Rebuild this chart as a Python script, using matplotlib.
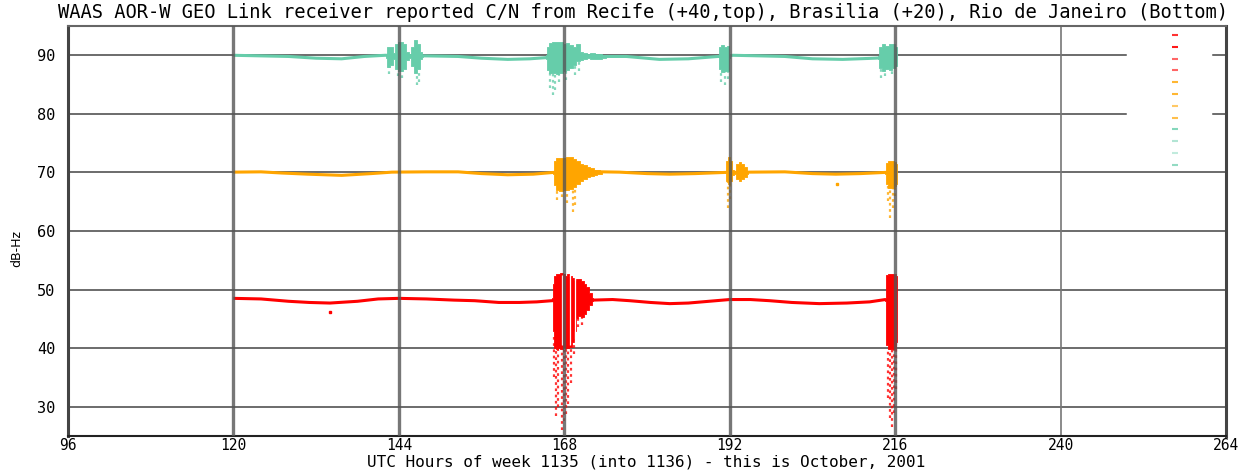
import numpy as np
import matplotlib
matplotlib.use("Agg")
import matplotlib.pyplot as plt

# baseline C/N (already offset: Recife +40, Brasilia +20, Rio +0)
green_t = [120, 124, 128, 132, 135.7, 139, 142, 148, 152.6, 156, 159.8, 163, 165.4,
           172, 177, 181.8, 186, 190.3, 192.5, 196.4, 200, 204, 208.4, 213, 216.2]
green_y = [90.0, 89.9, 89.8, 89.5, 89.4, 89.8, 90.0, 89.9, 89.8, 89.5, 89.3, 89.4, 89.6,
           89.8, 89.8, 89.3, 89.4, 89.8, 90.0, 89.9, 89.8, 89.4, 89.3, 89.5, 89.7]

orange_t = [120, 124, 127, 130.8, 135.7, 140, 143, 148, 152.6, 156, 159.8, 163.5, 166.4,
            173.5, 176, 180, 183.3, 187, 191.3, 195, 200, 204, 207.4, 211, 214.5, 216.2]
orange_y = [70.05, 70.1, 69.9, 69.7, 69.5, 69.8, 70.05, 70.1, 70.1, 69.8, 69.6, 69.7, 70.0,
            70.1, 70.05, 69.8, 69.7, 69.8, 70.0, 70.05, 70.1, 69.8, 69.7, 69.8, 70.0, 70.1]

red_t = [120, 124, 128, 131, 134, 138, 141, 144, 148, 152, 155, 158.5, 161.5, 164, 166.2,
         172.1, 175, 177.5, 180.5, 183.3, 186, 188, 192, 195, 197.8, 201, 205, 209, 212.3, 214.6]
red_y = [48.5, 48.4, 48.0, 47.8, 47.7, 48.0, 48.4, 48.5, 48.4, 48.2, 48.1, 47.8, 47.8, 47.9, 48.1,
         48.2, 48.3, 48.1, 47.8, 47.6, 47.7, 47.9, 48.3, 48.3, 48.1, 47.8, 47.6, 47.7, 47.9, 48.3]

# scintillation bursts: dense envelope (hi / lo)
green_burst_t = [
    [142.2, 142.5, 143.0, 143.3, 143.6, 144.2, 144.9, 145.3, 145.6, 146.0, 146.4, 146.8, 147.2, 147.5],
    [165.4, 165.7, 166.0, 166.5, 167.0, 167.5, 168.0, 168.5, 169.0, 169.5, 170.0, 170.5, 171.0, 171.5, 172.0, 173.0, 174.0],
    [190.3, 190.6, 191.0, 191.4, 191.8, 192.1],
    [213.5, 213.8, 214.3, 214.8, 215.3, 215.8, 216.2],
]
green_burst_hi = [
    [90.3, 91.5, 91.4, 90.4, 91.9, 92.2, 91.9, 90.6, 90.2, 91.5, 92.6, 92.0, 90.5, 90.1],
    [90.0, 91.5, 92.1, 92.3, 92.3, 92.2, 92.0, 92.1, 91.8, 91.5, 92.0, 90.6, 90.4, 90.2, 90.4, 90.3, 90.1],
    [90.0, 91.5, 91.7, 91.4, 91.6, 90.2],
    [89.8, 91.5, 92.0, 91.6, 91.9, 92.0, 91.5],
]
green_burst_lo = [
    [89.6, 88.0, 88.3, 89.4, 87.6, 87.3, 87.6, 89.2, 89.5, 88.2, 87.0, 87.6, 89.3, 89.7],
    [89.4, 87.5, 87.0, 87.0, 86.8, 87.0, 87.3, 87.5, 87.8, 88.4, 89.0, 89.2, 89.4, 89.5, 89.3, 89.4, 89.6],
    [89.7, 87.6, 87.1, 87.4, 87.3, 89.6],
    [89.4, 87.8, 87.4, 87.6, 87.5, 87.8, 88.2],
]

orange_burst_t = [
    [166.4, 166.7, 167.0, 167.5, 168.0, 168.5, 169.0, 169.5, 170.0, 170.5, 171.0, 171.5, 172.0, 172.5, 173.0, 173.5],
    [191.3, 191.6, 191.9, 192.2, 192.5, 192.8, 193.1, 193.5, 193.9, 194.3, 194.6],
    [214.5, 214.8, 215.2, 215.6, 216.0, 216.2],
]
orange_burst_hi = [
    [70.2, 72.0, 72.4, 72.5, 72.4, 72.7, 72.6, 72.3, 71.9, 71.5, 71.2, 70.9, 70.7, 70.5, 70.4, 70.2],
    [70.2, 72.0, 72.6, 72.0, 70.5, 70.3, 71.5, 71.7, 71.5, 71.0, 70.2],
    [70.3, 71.6, 72.0, 72.0, 71.8, 71.5],
]
orange_burst_lo = [
    [69.8, 67.8, 67.0, 66.8, 67.0, 67.0, 67.2, 67.5, 68.0, 68.5, 68.8, 69.2, 69.4, 69.6, 69.7, 69.8],
    [69.9, 68.5, 68.1, 68.6, 69.6, 69.7, 68.8, 68.6, 68.8, 69.2, 69.8],
    [69.8, 68.0, 67.4, 67.4, 67.6, 68.0],
]

red_burst_t = [
    [166.2, 166.4, 166.7, 167.0, 167.3, 167.6, 168.0, 168.3, 168.6, 168.9, 169.2, 169.5, 169.8,
     170.2, 170.6, 171.0, 171.4, 171.8, 172.1],
    [214.6, 214.8, 215.2, 215.6, 216.0, 216.2],
]
red_burst_hi = [
    [48.6, 51.0, 52.3, 52.6, 52.7, 52.8, 52.7, 52.4, 52.6, 52.3, 52.0, 51.6, 51.8, 51.8, 51.4, 51.0, 50.4, 49.5, 48.6],
    [48.5, 52.5, 52.7, 52.7, 52.6, 52.3],
]
red_burst_lo = [
    [48.0, 43.0, 40.0, 39.8, 40.0, 39.8, 40.2, 40.0, 40.0, 40.2, 41.0, 43.0, 45.2, 45.5, 45.4, 45.8, 46.5, 47.3, 48.0],
    [48.0, 40.5, 39.9, 39.9, 40.0, 41.0],
]
red_gaps = [167.6, 168.8, 169.5]

# sparse fade tails below the dense part
green_tail_t = [142.6, 143.9, 144.4, 146.6, 146.9, 166.0, 166.3, 166.7, 167.3, 168.2, 169.6, 170.2,
                190.8, 191.3, 191.7, 214.0, 214.5, 215.6]
green_tail_top = [88.0, 87.4, 87.3, 87.0, 87.4, 87.0, 87.0, 87.0, 86.8, 87.3, 88.4, 89.0,
                  87.5, 87.3, 87.3, 87.6, 87.6, 87.8]
green_tail_bot = [86.8, 86.5, 86.2, 85.0, 85.4, 84.5, 83.3, 84.0, 85.5, 85.8, 86.6, 87.3,
                  85.5, 84.9, 86.0, 86.1, 86.5, 86.8]

orange_tail_t = [167.0, 167.6, 168.4, 169.2, 169.5, 191.7, 192.0, 214.9, 215.3, 215.7, 216.0]
orange_tail_top = [67.0, 66.8, 67.0, 67.2, 67.5, 68.5, 68.2, 68.0, 67.4, 67.4, 67.6]
orange_tail_bot = [65.3, 65.8, 64.8, 63.3, 64.5, 64.0, 65.5, 65.2, 62.3, 64.0, 66.0]

red_tail_t = [166.5, 166.8, 167.1, 167.6, 168.0, 168.3, 168.6, 169.0, 169.4, 170.0, 170.5,
              214.9, 215.2, 215.5, 215.9, 216.1]
red_tail_top = [42.0, 40.0, 39.8, 39.8, 40.2, 40.0, 40.0, 40.2, 42.0, 45.3, 45.4,
                40.0, 39.9, 39.9, 40.0, 40.8]
red_tail_bot = [35.0, 28.5, 30.0, 26.0, 27.5, 28.8, 30.5, 34.0, 39.0, 43.6, 44.0,
                31.5, 28.0, 26.5, 29.0, 33.0]

# isolated outliers
orange_pts_t, orange_pts_y = [207.6], [68.1]
red_pts_t, red_pts_y = [134.0], [46.2]

xticks = [96, 120, 144, 168, 192, 216, 240, 264]
yticks = [30, 40, 50, 60, 70, 80, 90]

GREEN = "#66cdaa"
ORANGE = "#ffa500"
RED = "#ff0000"

fig = plt.figure(figsize=(12.55, 4.70), dpi=100)
ax = fig.add_axes([68 / 1255, 1 - 436 / 470, (1226 - 68) / 1255, (436 - 26) / 470])
ax.set_xlim(96, 264)
ax.set_ylim(25, 95)

# horizontal grid (the key area blanks the top two lines)
key_l, key_r = (1126 - 68) / 1158, (1213 - 68) / 1158
for yv in yticks:
    if yv >= 80:
        ax.axhline(yv, 0, key_l, color="#444444", lw=1.1, zorder=1)
        ax.axhline(yv, key_r, 1, color="#444444", lw=1.1, zorder=1)
    else:
        ax.axhline(yv, color="#444444", lw=1.1, zorder=1)


def draw_station(bt, by, bursts_t, bursts_hi, bursts_lo, tt, ttop, tbot, color):
    ax.plot(bt, by, color=color, lw=2.2, solid_capstyle="butt", zorder=3)
    for t, hi, lo in zip(bursts_t, bursts_hi, bursts_lo):
        ax.fill_between(t, lo, hi, step="mid", color=color, lw=0.6, ec=color, zorder=3)
    ax.vlines(tt, tbot, ttop, colors=color, lw=1.6, linestyles=(0, (1.2, 1.6)),
              alpha=0.8, zorder=3)


draw_station(green_t, green_y, green_burst_t, green_burst_hi, green_burst_lo,
             green_tail_t, green_tail_top, green_tail_bot, GREEN)
draw_station(orange_t, orange_y, orange_burst_t, orange_burst_hi, orange_burst_lo,
             orange_tail_t, orange_tail_top, orange_tail_bot, ORANGE)
draw_station(red_t, red_y, red_burst_t, red_burst_hi, red_burst_lo,
             red_tail_t, red_tail_top, red_tail_bot, RED)
ax.vlines(red_gaps, 40.5, 52.5, colors="white", lw=0.9, zorder=4)
ax.plot(orange_pts_t, orange_pts_y, "s", ms=2, color=ORANGE, zorder=3)
ax.plot(red_pts_t, red_pts_y, "s", ms=2, color=RED, zorder=3)

# vertical grid, drawn over the data like the original
for xv in xticks[1:6]:
    ax.axvline(xv, color="#555555", lw=2.4, alpha=0.8, zorder=5)
ax.axvline(240, color="#777777", lw=1.2, zorder=1)

# key samples (untitled)
key_colors = [RED] * 4 + [ORANGE] * 4 + [GREEN] * 4
key_alpha = [0.8, 0.9, 0.6, 0.6, 0.8, 0.8, 0.6, 0.7, 0.8, 0.5, 0.4, 0.7]
for i, (c, a) in enumerate(zip(key_colors, key_alpha)):
    ax.plot([0.956], [0.978 - i * 0.0288], marker="_", ms=4, mew=1.5, color=c, alpha=a,
            transform=ax.transAxes, zorder=5)

for side, lw, c in [("left", 2.2, "#444444"), ("right", 2.2, "#444444"),
                    ("bottom", 1.5, "#222222"), ("top", 1.5, "#666666")]:
    ax.spines[side].set_linewidth(lw)
    ax.spines[side].set_color(c)

mono = "DejaVu Sans Mono"
ax.set_xticks(xticks)
ax.set_yticks(yticks)
ax.set_xticklabels([str(v) for v in xticks], family=mono, fontsize=10.5)
ax.set_yticklabels([str(v) for v in yticks], family=mono, fontsize=11)
ax.tick_params(axis="x", length=0, pad=1.5)
ax.tick_params(axis="y", length=0, pad=9)

fig.text(0.512, 0.974, "WAAS AOR-W GEO Link receiver reported C/N from Recife (+40,top), "
         "Brasilia (+20), Rio de Janeiro (Bottom)", ha="center", va="center",
         family=mono, fontsize=13.5)
fig.text(0.515, 0.001, "UTC Hours of week 1135 (into 1136) - this is October, 2001",
         ha="center", va="bottom", family=mono, fontsize=11.5)
fig.text(0.0135, 0.472, "dB-Hz", rotation=90, ha="center", va="center",
         family="DejaVu Sans", fontsize=9)

fig.savefig("out.png", dpi=100)
